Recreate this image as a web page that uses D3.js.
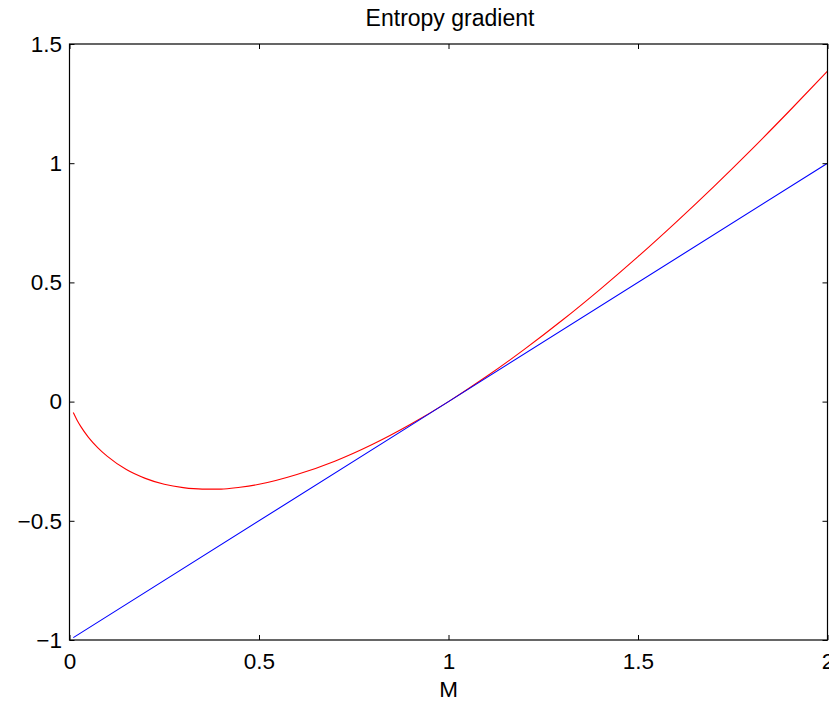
<!DOCTYPE html>
<html><head><meta charset="utf-8">
<script src="https://cdn.jsdelivr.net/npm/d3@7"></script>
<style>body{margin:0;background:#fff}svg{display:block}text{font-family:"Liberation Sans",Arial,sans-serif}</style>
</head><body>
<svg id="c" width="829" height="701"></svg>
<script>
const title = "Entropy gradient";
const xLabel = "M";
const xTicks = [0, 0.5, 1, 1.5, 2];
const yTicks = [-1, -0.5, 0, 0.5, 1, 1.5];
const redM = [0.01,0.02,0.03,0.05,0.075,0.1,0.15,0.2,0.25,0.3,0.35,0.4,0.45,0.5,0.6,0.7,0.8,0.9,1.0,1.1,1.2,1.3,1.4,1.5,1.6,1.7,1.8,1.9,2.0];
const redV = [-0.046,-0.078,-0.105,-0.150,-0.194,-0.230,-0.285,-0.322,-0.347,-0.361,-0.367,-0.367,-0.359,-0.347,-0.306,-0.250,-0.179,-0.095,0,0.105,0.219,0.341,0.471,0.608,0.752,0.902,1.058,1.220,1.386];
const blueM = [0.01, 1.0, 2.0];
const blueV = [-0.99, 0, 1.0];

const FS = 22.5;
const svg = d3.select("#c");
const L = 69.5, R = 827.5, T = 44, B = 640;
const x = d3.scaleLinear().domain([0, 2]).range([L, R]);
const y = d3.scaleLinear().domain([-1, 1.5]).range([B, T]);
const fmt = d => (d < 0 ? "\u2212" + Math.abs(d) : String(d));

const line = d3.line().x(d => x(d[0])).y(d => y(d[1])).curve(d3.curveMonotoneX);
svg.append("path").datum(redM.map((m, i) => [m, redV[i]]))
  .attr("d", line).attr("fill", "none").attr("stroke", "#ff0000").attr("stroke-width", 1.1);
svg.append("path").datum(blueM.map((m, i) => [m, blueV[i]]))
  .attr("d", d3.line().x(d => x(d[0])).y(d => y(d[1]))).attr("fill", "none").attr("stroke", "#0000ff").attr("stroke-width", 1.1);

const ax = g => g.selectAll(".domain").remove();
const styleText = g => g.selectAll("text").attr("font-size", FS).attr("fill", "#000").attr("font-family", "Liberation Sans, Arial, sans-serif");
svg.append("g").attr("transform", `translate(0,${B})`)
  .call(d3.axisBottom(x).tickValues(xTicks).tickSizeInner(-5).tickSizeOuter(0).tickPadding(13).tickFormat(fmt))
  .call(ax).call(styleText);
svg.append("g").attr("transform", `translate(0,${T})`)
  .call(d3.axisTop(x).tickValues(xTicks).tickSizeInner(-5).tickSizeOuter(0).tickFormat(""))
  .call(ax);
svg.append("g").attr("transform", `translate(${L},0)`)
  .call(d3.axisLeft(y).tickValues(yTicks).tickSizeInner(-5).tickSizeOuter(0).tickPadding(7.5).tickFormat(fmt))
  .call(ax).call(styleText);
svg.append("g").attr("transform", `translate(${R},0)`)
  .call(d3.axisRight(y).tickValues(yTicks).tickSizeInner(-5).tickSizeOuter(0).tickFormat(""))
  .call(ax);
svg.selectAll(".tick line").attr("stroke", "#000");
svg.append("rect").attr("x", L).attr("y", T).attr("width", R - L).attr("height", B - T)
  .attr("fill", "none").attr("stroke", "#000").attr("stroke-width", 1.2);

svg.append("text").attr("x", 450).attr("y", 26).attr("text-anchor", "middle").attr("font-size", 23).text(title);
svg.append("text").attr("x", (L + R) / 2).attr("y", 697).attr("text-anchor", "middle").attr("font-size", FS).text(xLabel);
</script>
</body></html>
